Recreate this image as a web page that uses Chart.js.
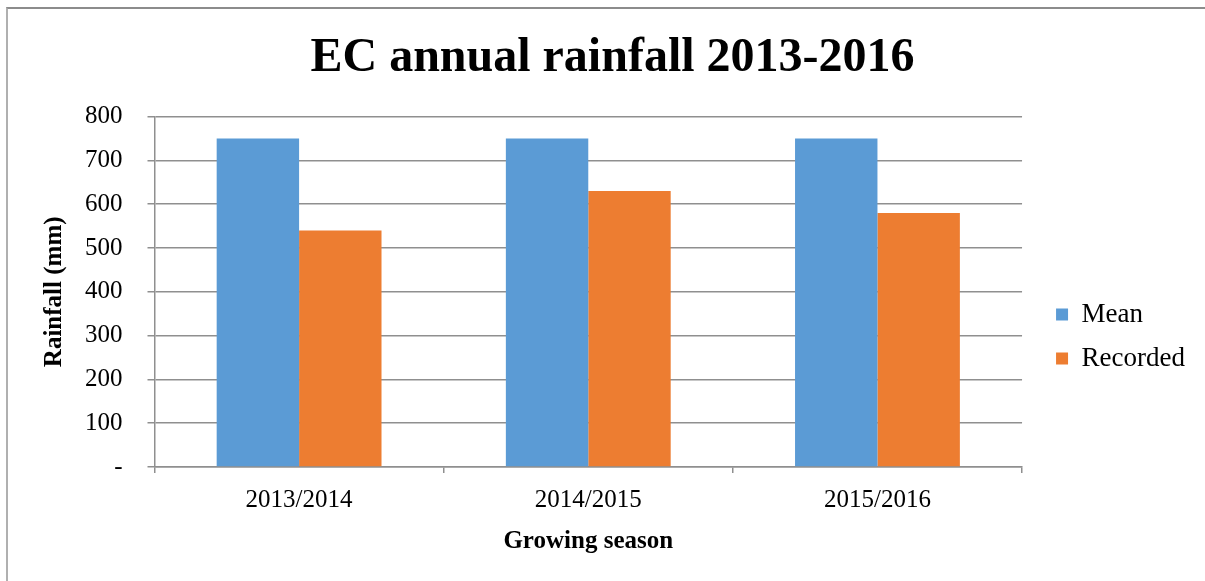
<!DOCTYPE html>
<html>
<head>
<meta charset="utf-8">
<script src="https://cdn.jsdelivr.net/npm/chart.js@4"></script>
<style>
    body { margin: 0; background: #fff; overflow: hidden; }
    #wrap { position: relative; width: 1205px; height: 581px; overflow: hidden; }
    #frame { position: absolute; left: 6px; top: 7px; width: 1300px; height: 700px;
             border-top: 2px solid #8c8c8c; border-left: 2px solid #b0b0b0; }
    #chart { position: absolute; left: 0; top: 0; }
</style>
</head>
<body>
<div id="wrap">
    <div id="frame"></div>
    <canvas id="chart" width="1205" height="581"></canvas>
</div>
<script>
// data
const seasons = ['2013/2014', '2014/2015', '2015/2016'];
const meanRain = [750, 750, 750];
const recordedRain = [540, 630, 580];
const yTickLabels = ['-', '100', '200', '300', '400', '500', '600', '700', '800'];

const serif = "'Liberation Serif', 'Times New Roman', serif";
const gridGray = '#8f8f8f';

// excel puts the legend a bit away from the plot and lower than centre
const legendNudge = {
    id: 'legendNudge',
    afterLayout(chart) {
        const lg = chart.legend;
        lg.left += 17; lg.right += 17;
        lg.top += 56; lg.bottom += 56;
    }
};

var ctx = document.getElementById('chart').getContext('2d');

new Chart(ctx, {
    type: 'bar',
    data: {
        labels: seasons,
        datasets: [{
            label: 'Mean',
            data: meanRain,
            backgroundColor: '#5B9BD5'
        }, {
            label: 'Recorded',
            data: recordedRain,
            backgroundColor: '#ED7D31'
        }]
    },
    options: {
        responsive: false,
        animation: false,
        layout: {
            padding: { left: 47, right: 27, bottom: 20 }
        },
        datasets: {
            bar: {
                barPercentage: 1,
                categoryPercentage: 0.57
            }
        },
        scales: {
            x: {
                grid: {
                    offset: true,
                    drawOnChartArea: false,
                    drawTicks: true,
                    tickLength: 6,
                    color: gridGray,
                    lineWidth: 1.5
                },
                border: { color: gridGray, width: 1.5 },
                ticks: {
                    color: '#000',
                    padding: 12,
                    font: { family: serif, size: 25 }
                },
                title: {
                    display: true,
                    text: 'Growing season',
                    color: '#000',
                    padding: { top: 0 },
                    font: { family: serif, size: 25, weight: 'bold' }
                }
            },
            y: {
                min: 0,
                max: 800,
                grid: {
                    color: gridGray,
                    lineWidth: 1.5,
                    tickLength: 7
                },
                border: { color: gridGray, width: 1.5 },
                ticks: {
                    stepSize: 100,
                    color: '#000',
                    padding: 25,
                    font: { family: serif, size: 25 },
                    callback(value, index) {
                        return yTickLabels[index];
                    }
                },
                title: {
                    display: true,
                    text: 'Rainfall (mm)',
                    color: '#000',
                    padding: { top: 0, bottom: -2 },
                    font: { family: serif, size: 25, weight: 'bold', lineHeight: 0.6 }
                }
            }
        },
        plugins: {
            title: {
                display: true,
                text: 'EC annual rainfall 2013-2016',
                color: '#000',
                padding: { top: 30, bottom: 29 },
                font: { family: serif, size: 48, weight: 'bold' }
            },
            legend: {
                position: 'right',
                labels: {
                    color: '#000',
                    boxWidth: 12,
                    boxHeight: 12,
                    padding: 17,
                    font: { family: serif, size: 27 }
                }
            },
            tooltip: { enabled: false }
        }
    },
    plugins: [legendNudge]
});
</script>
</body>
</html>
